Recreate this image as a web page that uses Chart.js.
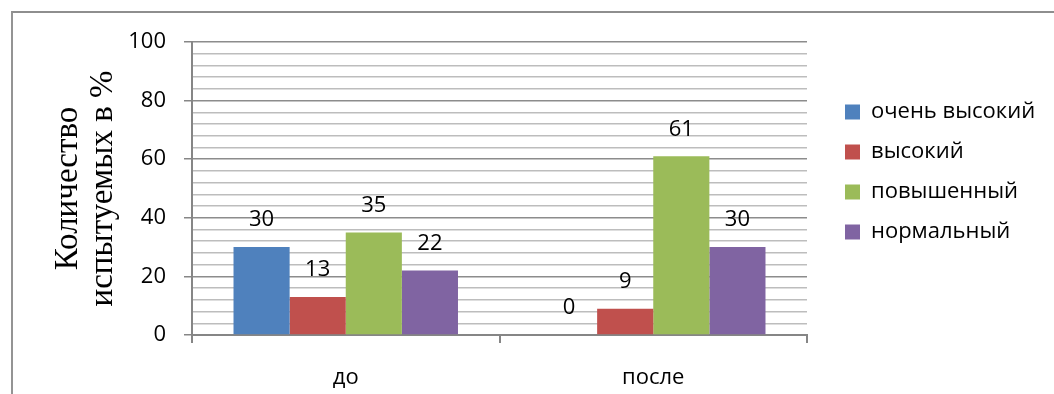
<!DOCTYPE html>
<html lang="ru">
<head>
<meta charset="utf-8">
<title>Количество испытуемых</title>
<script src="https://cdn.jsdelivr.net/npm/chart.js@4/dist/chart.umd.min.js"></script>
<style>
   html, body { margin: 0; padding: 0; background: #fff; }
   #wrap { position: relative; width: 1054px; height: 394px; overflow: hidden; }
   /* рамка области диаграммы */
   #frame {
      position: absolute; left: 11px; top: 11px; width: 1200px; height: 500px;
      border-left: 2px solid #949494; border-top: 2px solid #8e8e8e;
   }
   #chart { position: absolute; left: 0; top: 0; }
</style>
</head>
<body>
<div id="wrap">
   <div id="frame"></div>
   <canvas id="chart" width="1054" height="394"></canvas>
</div>
<script>
// Данные диаграммы
const categories = ['до', 'после'];
const seriesNames = ['очень высокий', 'высокий', 'повышенный', 'нормальный'];
const veryHigh = [30, 0];
const high = [13, 9];
const raised = [35, 61];
const normal = [22, 30];
const yTicks = [0, 20, 40, 60, 80, 100];

const colors = ['#4F81BD', '#C0504D', '#9BBB59', '#8064A2'];
const seriesValues = [veryHigh, high, raised, normal];

const baseFont = { family: '"Open Sans", sans-serif', size: 22 };

// Подписи значений над столбцами
const barLabels = {
   id: 'barLabels',
   afterDatasetsDraw(chart) {
      const ctx = chart.ctx;
      ctx.save();
      ctx.font = '22px "Open Sans", sans-serif';
      ctx.fillStyle = '#000';
      ctx.textAlign = 'center';
      ctx.textBaseline = 'middle';
      chart.data.datasets.forEach((ds, i) => {
         chart.getDatasetMeta(i).data.forEach((bar, j) => {
            ctx.fillText(String(ds.data[j]), bar.x, bar.y - 27);
         });
      });
      ctx.restore();
   }
};

// Фиксированная ширина и положение легенды справа
const legendPlace = {
   id: 'legendPlace',
   afterInit(chart) {
      const legend = chart.legend;
      const fit = legend.fit;
      legend.fit = function () {
         fit.call(this);
         this.width = 247;
      };
   },
   afterLayout(chart) {
      const legend = chart.legend;
      const h = legend.height;
      legend.left = 827;
      legend.right = 827 + 247;
      legend.top = 83;
      legend.bottom = 83 + h;
   }
};

new Chart(document.getElementById('chart'), {
   type: 'bar',
   data: {
      labels: categories,
      datasets: seriesNames.map((name, i) => ({
         label: name,
         data: seriesValues[i],
         backgroundColor: colors[i],
         borderWidth: 0,
         barPercentage: 1,
         categoryPercentage: 0.73
      }))
   },
   options: {
      responsive: false,
      animation: false,
      layout: { padding: { left: 0, top: 42, right: 0, bottom: 0 } },
      plugins: {
         legend: {
            position: 'right',
            align: 'start',
            labels: {
               boxWidth: 15,
               boxHeight: 15,
               padding: 18,
               color: '#000',
               font: baseFont
            }
         },
         tooltip: { enabled: false }
      },
      scales: {
         x: {
            afterFit(scale) { scale.height = 59; },
            grid: {
               drawOnChartArea: false,
               offset: true,
               tickLength: 8,
               color: '#868686',
               lineWidth: 2
            },
            border: { color: '#868686', width: 2 },
            ticks: { color: '#000', font: baseFont, padding: 22 }
         },
         y: {
            min: 0,
            max: 100,
            afterFit(scale) { scale.width = 192; },
            afterBuildTicks(scale) {
               // основная сетка через 20, дополнительная через 4
               const ticks = [];
               for (let v = 0; v <= 100; v += 4) ticks.push({ value: v });
               scale.ticks = ticks;
            },
            grid: {
               tickLength: 8,
               lineWidth: 1.5,
               color: ctx => yTicks.includes(ctx.tick.value) ? '#8c8c8c' : '#bdbdbd',
               tickColor: ctx => yTicks.includes(ctx.tick.value) ? '#868686' : 'rgba(0,0,0,0)'
            },
            border: { color: '#868686', width: 2 },
            ticks: {
               color: '#000',
               font: baseFont,
               padding: 18,
               autoSkip: false,
               callback: v => yTicks.includes(v) ? String(v) : ''
            },
            title: {
               display: true,
               text: ['Количество', 'испытуемых в %'],
               color: '#000',
               font: { family: '"Liberation Serif", "Times New Roman", serif', size: 33, lineHeight: 1.06 },
               padding: { top: 51, bottom: 0 }
            }
         }
      }
   },
   plugins: [barLabels, legendPlace]
});
</script>
</body>
</html>
